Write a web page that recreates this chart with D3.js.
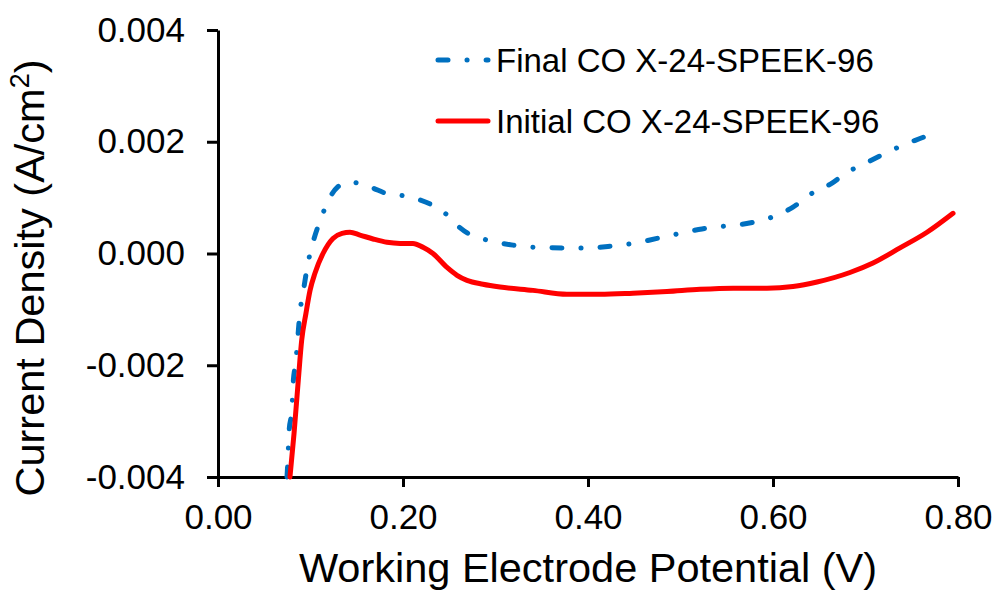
<!DOCTYPE html>
<html>
<head>
<meta charset="utf-8">
<script src="https://cdn.jsdelivr.net/npm/d3@7"></script>
<style>
  html, body { margin: 0; padding: 0; background: #fff; }
  svg { display: block; font-family: "Liberation Sans", Arial, sans-serif; }
</style>
</head>
<body>
<svg id="chart" width="996" height="592"></svg>
<script>
// ---- data ----
const xTicks = [0, 0.2, 0.4, 0.6, 0.8];
const yTicks = [-0.004, -0.002, 0, 0.002, 0.004];
const seriesNames = ["Final CO X-24-SPEEK-96", "Initial CO X-24-SPEEK-96"];

const finalX = [0.0746, 0.0757, 0.0768, 0.0800, 0.0811, 0.0843, 0.0865, 0.0886, 0.0919, 0.0973,
  0.1027, 0.1114, 0.1211, 0.1300, 0.1384, 0.1568, 0.1676, 0.1849, 0.2022,
  0.2162, 0.2335, 0.2476, 0.2562, 0.2703, 0.2865, 0.3016, 0.3189, 0.3449, 0.3719,
  0.3968, 0.4238, 0.4486, 0.4746, 0.4995, 0.5232, 0.5481, 0.5730, 0.5989, 0.6216,
  0.6422, 0.6638, 0.6789, 0.7005, 0.7222, 0.7449, 0.7676, 0.7751];
const finalY = [-0.00400, -0.00365, -0.00320, -0.00277, -0.00236, -0.00191, -0.00146, -0.00105, -0.00071, -0.00017,
  0.00020, 0.00063, 0.00101, 0.00120, 0.00128, 0.00124, 0.00117, 0.00106, 0.00103,
  0.00097, 0.00085, 0.00069, 0.00054, 0.00036, 0.00026, 0.00020, 0.00015, 0.00011, 0.00010,
  0.00010, 0.00013, 0.00018, 0.00027, 0.00036, 0.00044, 0.00049, 0.00054, 0.00065, 0.00083,
  0.00108, 0.00126, 0.00144, 0.00162, 0.00180, 0.00197, 0.00212, 0.00219];

const initialX = [0.0778, 0.0822, 0.0868, 0.0905, 0.0951, 0.0995, 0.1049, 0.1135, 0.1243, 0.1341,
  0.1427, 0.1535, 0.1676, 0.1827, 0.1968, 0.2108, 0.2216, 0.2324, 0.2476, 0.2584,
  0.2692, 0.2865, 0.3049, 0.3405, 0.3773, 0.4130, 0.4486, 0.4854, 0.5211, 0.5568,
  0.5935, 0.6216, 0.6476, 0.6832, 0.7081, 0.7373, 0.7665, 0.7946];
const initialY = [-0.00400, -0.00322, -0.00227, -0.00155, -0.00107, -0.00066, -0.00035, 0.00000, 0.00027, 0.00036,
  0.00038, 0.00033, 0.00026, 0.00020, 0.00018, 0.00018, 0.00011, 0.00000, -0.00025, -0.00039,
  -0.00048, -0.00055, -0.00060, -0.00066, -0.00073, -0.00073, -0.00071, -0.00068, -0.00064, -0.00062,
  -0.00062, -0.00059, -0.00051, -0.00034, -0.00017, 0.00010, 0.00038, 0.00072];

// ---- layout ----
const svg = d3.select("#chart");
const plotLeft = 218, plotRight = 958, plotTop = 30, plotBottom = 477;

const x = d3.scaleLinear().domain([0, 0.8]).range([plotLeft, plotRight]);
const y = d3.scaleLinear().domain([-0.004, 0.004]).range([plotBottom, plotTop]);

// axes
const xAxis = d3.axisBottom(x).tickValues(xTicks).tickFormat(d3.format(".2f"))
  .tickSizeInner(10).tickSizeOuter(0).tickPadding(17);
const yAxis = d3.axisLeft(y).tickValues(yTicks).tickFormat(d3.format(".3f"))
  .tickSizeInner(11).tickSizeOuter(0).tickPadding(22);

const gx = svg.append("g").attr("transform", `translate(0,${plotBottom})`).call(xAxis);
const gy = svg.append("g").attr("transform", `translate(${plotLeft},0)`).call(yAxis);

[gx, gy].forEach(g => {
  g.selectAll("path.domain").attr("stroke", "#000").attr("stroke-width", 3);
  g.selectAll(".tick line").attr("stroke", "#000").attr("stroke-width", 3);
  g.selectAll(".tick text").attr("fill", "#000")
    .style("font-family", '"Liberation Sans", Arial, sans-serif').style("font-size", "35px");
});
gy.selectAll(".tick text").text(d => d < 0 ? "-" + d3.format(".3f")(-d) : d3.format(".3f")(d));

// lines
const line = d3.line().x(d => x(d[0])).y(d => y(d[1])).curve(d3.curveMonotoneX);
const finalData = finalX.map((v, i) => [v, finalY[i]]);
const initialData = initialX.map((v, i) => [v, initialY[i]]);

svg.append("path").datum(finalData).attr("d", line)
  .attr("fill", "none").attr("stroke", "#0070C0").attr("stroke-width", 5)
  .attr("stroke-linecap", "round").attr("stroke-dasharray", "10,19,0.1,19");

svg.append("path").datum(initialData).attr("d", line)
  .attr("fill", "none").attr("stroke", "#FF0000").attr("stroke-width", 5)
  .attr("stroke-linejoin", "round").attr("stroke-linecap", "round");

// axis titles
svg.append("text").attr("x", 588).attr("y", 582).attr("text-anchor", "middle")
  .style("font-size", "41.5px").attr("fill", "#000").text("Working Electrode Potential (V)");

const yt = svg.append("text").attr("transform", "translate(44,278) rotate(-90)")
  .attr("text-anchor", "middle").style("font-size", "41.5px").attr("fill", "#000");
yt.append("tspan").text("Current Density (A/cm");
yt.append("tspan").attr("baseline-shift", "super").style("font-size", "27px").text("2");
yt.append("tspan").text(")");

// legend
const legend = svg.append("g");
const legendItems = [
  { name: seriesNames[0], color: "#0070C0", dash: "10,19,0.1,19", y: 60 },
  { name: seriesNames[1], color: "#FF0000", dash: null, y: 121 }
];
legendItems.forEach(it => {
  const l = legend.append("line").attr("x1", 438).attr("x2", 488)
    .attr("y1", it.y).attr("y2", it.y)
    .attr("stroke", it.color).attr("stroke-width", 5).attr("stroke-linecap", "round");
  if (it.dash) l.attr("stroke-dasharray", it.dash);
  legend.append("text").attr("x", 496).attr("y", it.y + 11.5)
    .style("font-size", "33px").attr("fill", "#000").text(it.name);
});
</script>
</body>
</html>
